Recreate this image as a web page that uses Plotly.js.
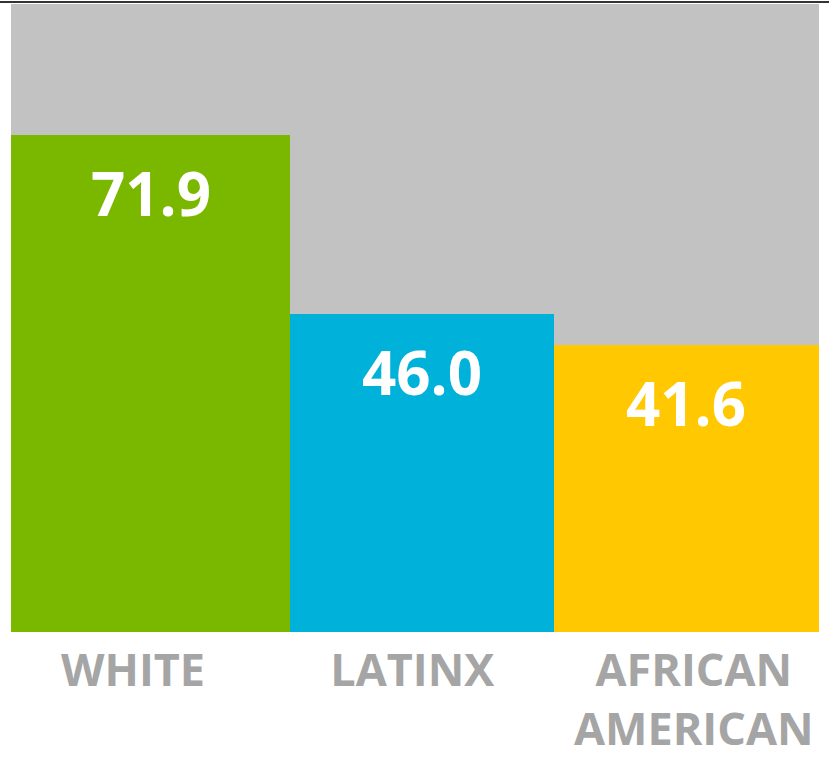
<!DOCTYPE html>
<html>
<head>
<meta charset="utf-8">
<script src="https://cdn.plot.ly/plotly-3.0.1.min.js"></script>
<style>html,body{margin:0;padding:0;background:#fff;}#chart{width:829px;height:757px;}</style>
</head>
<body>
<div id="chart"></div>
<script>
const categories = ["WHITE", "LATINX", "AFRICAN<br>AMERICAN"];
const values = [71.9, 46.0, 41.6];
const valueLabels = ["71.9", "46.0", "41.6"];
const colors = ["#7ab800", "#00b1d9", "#ffc800"];

const xIdx = categories.map((c, i) => i);

const trace = {
  type: "bar",
  x: xIdx,
  y: values,
  width: [1.036, 0.980, 0.984],
  offset: [-0.5, -0.464, -0.484],
  marker: { color: colors, line: { width: 0 } },
  hoverinfo: "none"
};

const annotations = values.map((v, i) => ({
  x: i + trace.offset[i] + trace.width[i] / 2,
  y: v,
  xref: "x",
  yref: "y",
  text: valueLabels[i],
  showarrow: false,
  yanchor: "middle",
  yshift: -58,
  font: { family: "Open Sans, Lato, sans-serif", size: 60, color: "#ffffff", weight: "bold" }
}));

const labelShift = [-0.047, -0.01, 0.035];

const layout = {
  width: 829,
  height: 757,
  margin: { l: 11, r: 10, t: 4, b: 125 },
  paper_bgcolor: "#ffffff",
  plot_bgcolor: "#c2c2c2",
  showlegend: false,
  bargap: 0,
  xaxis: {
    tickmode: "array",
    tickvals: xIdx.map((v, i) => v + labelShift[i]),
    ticktext: categories,
    range: [-0.5, 2.5],
    showgrid: false,
    zeroline: false,
    showline: false,
    ticks: "",
    ticklabelstandoff: 8,
    tickfont: { family: "Open Sans, Lato, sans-serif", size: 45, color: "#a5a5a5", weight: "bold" }
  },
  yaxis: {
    range: [0, 90.9],
    showgrid: false,
    zeroline: false,
    showline: false,
    showticklabels: false,
    ticks: ""
  },
  annotations: annotations,
  shapes: [{
    type: "line", xref: "paper", yref: "paper",
    x0: -0.02, x1: 1.02, y0: 1 + 2 / 628, y1: 1 + 2 / 628,
    line: { color: "#333333", width: 2 }
  }]
};

Plotly.newPlot("chart", [trace], layout, { displayModeBar: false, staticPlot: true });
</script>
</body>
</html>
